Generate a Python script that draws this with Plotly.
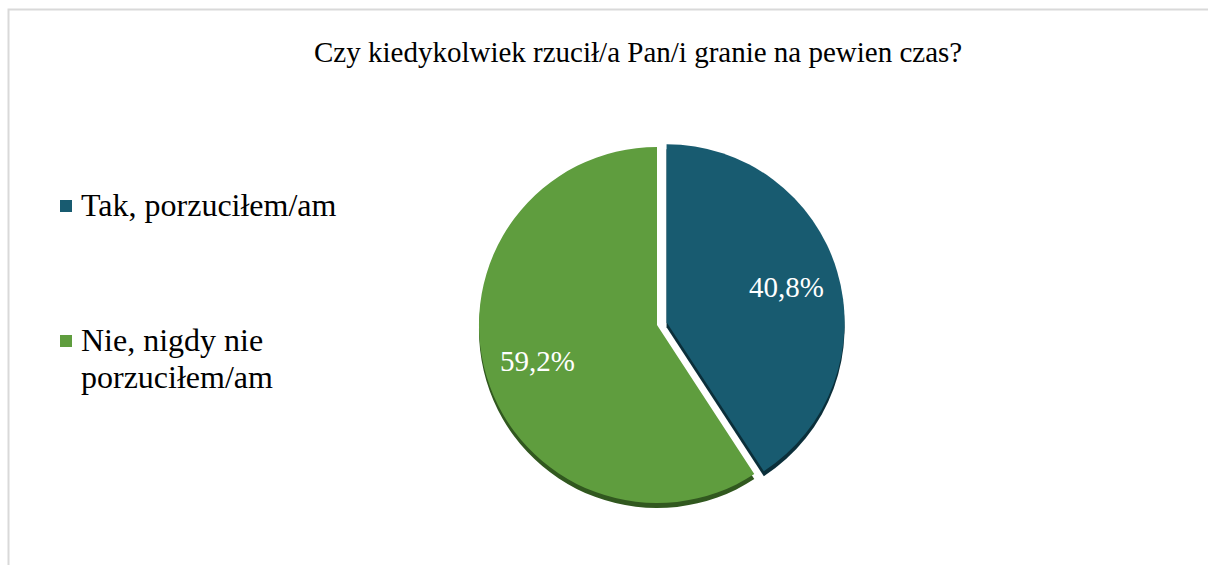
import math
import plotly.graph_objects as go

# Survey answers and their shares (%)
categories = ["Tak, porzuciłem/am", "Nie, nigdy nie porzuciłem/am"]
legend_lines = [["Tak, porzuciłem/am"], ["Nie, nigdy nie", "porzuciłem/am"]]
shares = [40.8, 59.2]
title_text = "Czy kiedykolwiek rzucił/a Pan/i granie na pewien czas?"

face_colors = ["#185b70", "#5f9d3e"]
rim_colors = ["#0b2f3a", "#31581f"]

W, H = 1208, 565
SERIF = "Liberation Serif"


def px_x(x):
    return x / W


def px_y(y):
    return 1 - y / H


labels_txt = [f"{v:.1f}%".replace(".", ",") for v in shares]
pulls = [0.056, 0]

# pie geometry in pixels
cx, cy, half = 657, 325, 188
max_pull = max(pulls)
radius = half / (1 + max_pull)
rim_drop = 5

fig = go.Figure()

# darker copy slightly lower gives the thick edge under the pie
fig.add_trace(go.Pie(
    labels=categories, values=shares, sort=False, direction="clockwise",
    rotation=0, pull=pulls, marker=dict(colors=rim_colors, line=dict(width=0)),
    textinfo="none", hoverinfo="skip", showlegend=False,
    domain=dict(x=[px_x(cx - half), px_x(cx + half)],
                y=[px_y(cy + half + rim_drop), px_y(cy - half + rim_drop)]),
))

fig.add_trace(go.Pie(
    labels=categories, values=shares, sort=False, direction="clockwise",
    rotation=0, pull=pulls, marker=dict(colors=face_colors, line=dict(width=0)),
    textinfo="none", hovertemplate="%{label}: %{value:.1f}%<extra></extra>",
    showlegend=False,
    domain=dict(x=[px_x(cx - half), px_x(cx + half)],
                y=[px_y(cy + half), px_y(cy - half)]),
))

shapes = [
    # chart frame
    dict(type="rect", xref="paper", yref="paper",
         x0=px_x(8.5), x1=1.05, y0=-0.05, y1=px_y(9.5),
         line=dict(color="#d9d9d9", width=2), fillcolor="rgba(0,0,0,0)",
         layer="below"),
]

annotations = [
    dict(text=title_text, xref="paper", yref="paper", x=px_x(638), y=px_y(52),
         xanchor="center", yanchor="middle", showarrow=False,
         font=dict(family=SERIF, size=29, color="#000000")),
]

# percentage labels placed along each slice's middle angle
total = sum(shares)
start = 0.0
for share, pull, txt in zip(shares, pulls, labels_txt):
    span = 360.0 * share / total
    mid = math.radians(start + span / 2)
    dist = radius * (0.70 + pull)
    lx = cx + dist * math.sin(mid)
    ly = cy - dist * math.cos(mid)
    annotations.append(dict(text=txt, xref="paper", yref="paper",
                            x=px_x(lx), y=px_y(ly), xanchor="center",
                            yanchor="middle", showarrow=False,
                            font=dict(family=SERIF, size=29, color="white")))
    start += span

# legend drawn at the left side
legend_rows = [206, 341]
line_step = 37
for lines, col, yc in zip(legend_lines, face_colors, legend_rows):
    shapes.append(dict(type="rect", xref="paper", yref="paper",
                       x0=px_x(60), x1=px_x(72), y0=px_y(yc + 6), y1=px_y(yc - 6),
                       fillcolor=col, line=dict(width=0)))
    for k, line in enumerate(lines):
        annotations.append(dict(text=line, xref="paper", yref="paper",
                                x=px_x(79), y=px_y(yc - 1 + k * line_step),
                                xanchor="left", yanchor="middle", showarrow=False,
                                font=dict(family=SERIF, size=32, color="#000000")))

fig.update_layout(
    width=W, height=H,
    margin=dict(l=0, r=0, t=0, b=0),
    paper_bgcolor="white", plot_bgcolor="white",
    showlegend=False,
    shapes=shapes, annotations=annotations,
)

fig.write_html("out.html")
